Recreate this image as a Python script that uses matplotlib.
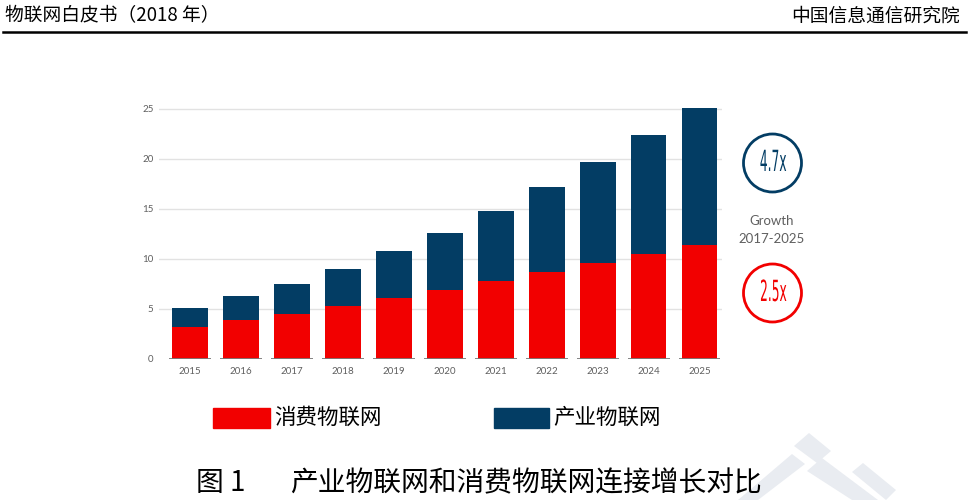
import matplotlib
matplotlib.use("Agg")
import matplotlib.pyplot as plt
import matplotlib.patches as mpatches
from matplotlib.patheffects import AbstractPathEffect
from matplotlib.transforms import Affine2D
import numpy as np

plt.rcParams['font.family'] = ['Noto Sans CJK SC', 'DejaVu Sans']

# data (billions of connections)
years = ['2015', '2016', '2017', '2018', '2019', '2020',
         '2021', '2022', '2023', '2024', '2025']
consumer = [3.2, 3.9, 4.5, 5.3, 6.1, 6.9, 7.8, 8.7, 9.6, 10.5, 11.4]
industrial = [1.9, 2.4, 3.0, 3.7, 4.7, 5.7, 7.0, 8.5, 10.1, 11.9, 13.7]
yticks = [0, 5, 10, 15, 20, 25]
growth_industrial = '4.7x'
growth_consumer = '2.5x'
growth_label = 'Growth\n2017-2025'
series_names = ['消费物联网', '产业物联网']

red = '#f20000'
blue = '#033d64'
gray_txt = '#5f5f5f'

W, H = 969, 500


def fx(px):
    return px / W


def fy(py):
    return 1 - py / H


class Squeeze(AbstractPathEffect):
    # narrow the text horizontally about its centre (condensed look)
    def __init__(self, sx):
        super().__init__()
        self.sx = sx

    def draw_path(self, renderer, gc, tpath, affine, rgbFace=None):
        ext = tpath.get_extents(affine)
        cx = (ext.x0 + ext.x1) / 2
        aff = affine + Affine2D().translate(-cx, 0).scale(self.sx, 1).translate(cx, 0)
        renderer.draw_path(gc, tpath, aff, rgbFace)


fig = plt.figure(figsize=(9.69, 5.0), dpi=100)

# faint watermark in the lower right
wm = '#e9ecf1'
for pts in [[(738, 500), (792, 454), (805, 464), (758, 500)],
            [(794, 446), (809, 433), (831, 451), (817, 463)],
            [(807, 471), (822, 458), (878, 500), (852, 500)],
            [(852, 472), (863, 463), (896, 490), (886, 500)]]:
    fig.add_artist(mpatches.Polygon([(fx(a), fy(b)) for a, b in pts], closed=True,
                                    color=wm, lw=0, transform=fig.transFigure, zorder=0))

# header
fig.text(fx(5), fy(16), '物联网白皮书（2018 年）', fontsize=13.5,
         ha='left', va='center', color='black')
fig.text(fx(960), fy(16), '中国信息通信研究院', fontsize=13.5,
         ha='right', va='center', color='black')
fig.add_artist(plt.Line2D([fx(3), fx(966)], [fy(31.5)] * 2,
                          color='black', lw=1.8, transform=fig.transFigure))

# chart
ax = fig.add_axes([fx(159), 141 / H, 563 / W, 260 / H])
x = np.arange(len(years))
ax.bar(x, consumer, width=0.7, color=red, zorder=3)
ax.bar(x, industrial, width=0.7, bottom=consumer, color=blue, zorder=3)
ax.hlines([0] * len(x), x - 0.41, x + 0.41, color='#7a7a7a', lw=1.3, zorder=4)

ax.set_xlim(-0.61, len(years) - 1 + 0.44)
ax.set_ylim(0, 26)
ax.set_yticks(yticks)
ax.set_yticklabels([str(v) for v in yticks])
ax.set_xticks(x)
ax.set_xticklabels(years)
ax.tick_params(axis='both', length=0, labelsize=7, labelcolor=gray_txt)
ax.tick_params(axis='y', pad=4)
ax.tick_params(axis='x', pad=6)
for lab in ax.get_xticklabels() + ax.get_yticklabels():
    lab.set_family(['Lato', 'DejaVu Sans'])
for v in yticks[1:]:
    ax.axhline(v, color='#e2e2e2', lw=1.0, zorder=1)
for s in ax.spines.values():
    s.set_visible(False)

# growth circles
for cy, txt, col in [(163, growth_industrial, blue), (293, growth_consumer, red)]:
    circ = mpatches.Circle((772.5 / 100, (H - cy) / 100), 0.29, fill=False,
                           edgecolor=col, lw=2.0, transform=fig.dpi_scale_trans)
    fig.add_artist(circ)
    t = fig.text(fx(773), fy(cy), txt, fontsize=21, color=col,
                 family=['DejaVu Sans'], ha='center', va='center')
    t.set_path_effects([Squeeze(0.42)])
fig.text(fx(772), fy(230), growth_label, fontsize=9.5, color=gray_txt,
         ha='center', va='center', linespacing=1.55, family=['Lato', 'DejaVu Sans'])

# legend
fig.add_artist(mpatches.Rectangle((fx(213), fy(428)), 57 / W, 20 / H,
                                  color=red, transform=fig.transFigure))
fig.text(fx(274), fy(418), series_names[0], fontsize=15.5,
         ha='left', va='center')
fig.add_artist(mpatches.Rectangle((fx(494), fy(428)), 55 / W, 20 / H,
                                  color=blue, transform=fig.transFigure))
fig.text(fx(553), fy(418), series_names[1], fontsize=15.5,
         ha='left', va='center')

# caption
fig.text(fx(196), fy(483), '图 1', fontsize=20, ha='left', va='center')
fig.text(fx(290), fy(483), '产业物联网和消费物联网连接增长对比', fontsize=20,
         ha='left', va='center')

fig.savefig('out.png', dpi=100, facecolor='white')
